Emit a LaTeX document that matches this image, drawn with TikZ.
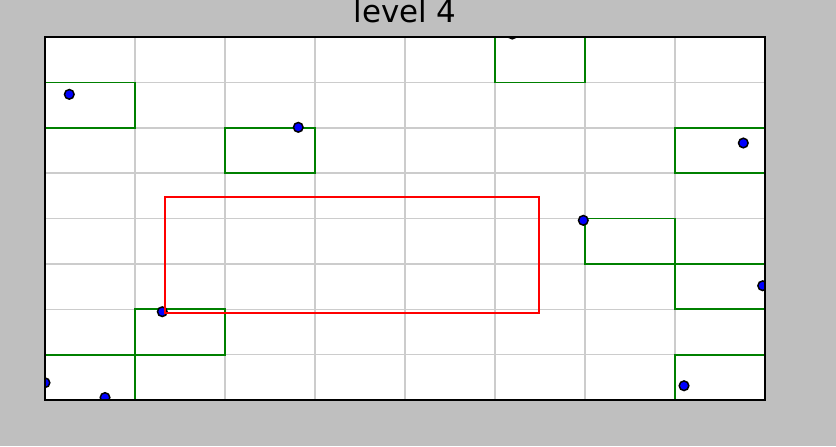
\documentclass[tikz,border=0pt]{standalone}
\usepackage{fontspec}
\setmainfont{DejaVu Sans}
\usepackage{xcolor}
\definecolor{bggray}{gray}{0.75}
\definecolor{gridgray}{gray}{0.8}
\definecolor{cellgreen}{rgb}{0,0.5,0}

\begin{document}
\begin{tikzpicture}[x=0.9cm,y=0.45375cm,
    gridline/.style={gridgray,line width=0.15mm},
    cellbox/.style={cellgreen,line width=0.17mm},
    querybox/.style={red,line width=0.17mm},
    pt/.style={fill=blue,draw=black,line width=0.15mm},
    frame/.style={black,line width=0.2mm}]
    \fill[bggray] (-0.5,-1.0138) rectangle (8.7889,8.8154);
    \useasboundingbox (-0.5,-1.0138) rectangle (8.7889,8.8154);
    \fill[white] (0,0) rectangle (8,8);
    \foreach \k in {1,...,7} {
      \draw[gridline] (\k,0) -- (\k,8);
      \draw[gridline] (0,\k) -- (8,\k);
    }

    % occupied cells
    \foreach \cx/\cy in {5/7,0/6,2/5,7/5,6/3,7/2,1/1,0/0,7/0}
      \draw[cellbox] (\cx,\cy) rectangle ++(1,1);

    \begin{scope}
      \clip (0,0) rectangle (8,8);
      \foreach \px/\py in {5.192/8.066,0.27/6.737,2.814/6.01,7.759/5.664,
          5.981/3.96,7.974/2.519,1.303/1.946,0/0.381,0.667/0.055,7.1/0.315}
        \filldraw[pt] (\px,\py) circle (0.48mm);
    \end{scope}

    \draw[querybox] (1.333,1.917) rectangle (5.489,4.474);
    \draw[frame] (0,0) rectangle (8,8);

    \node[anchor=base,inner sep=0pt,font=\fontsize{8.8}{10}\selectfont] (title) at (4,8.309) {level 4};
  \end{tikzpicture}
\end{document}
